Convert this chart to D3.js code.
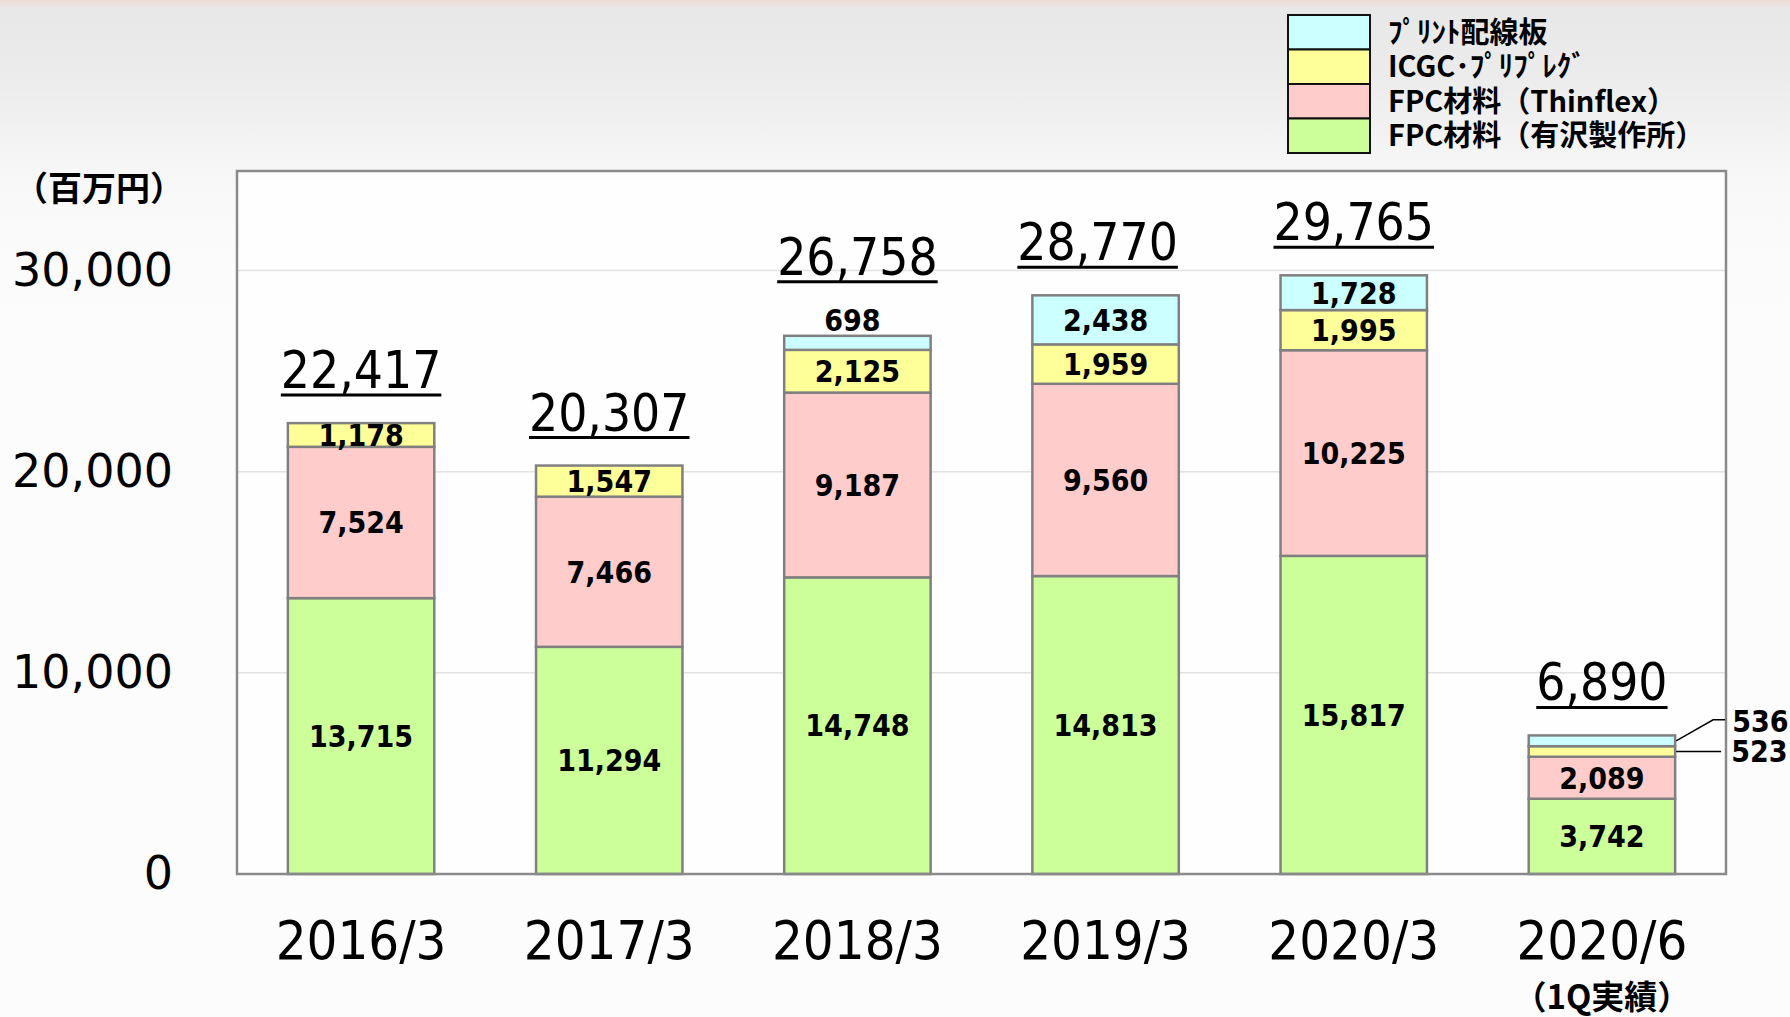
<!DOCTYPE html>
<html>
<head>
<meta charset="utf-8">
<script src="https://cdnjs.cloudflare.com/ajax/libs/d3/7.8.5/d3.min.js"></script>
<style>
  html, body { margin: 0; padding: 0; background: #fcfcfc; }
  svg { display: block; }
</style>
</head>
<body>
<div id="chart"></div>
<script>
// data (百万円)
var categories = ['2016/3', '2017/3', '2018/3', '2019/3', '2020/3', '2020/6'];
var seriesNames = ['FPC材料（有沢製作所）', 'FPC材料（Thinflex）', 'ICGC･ﾌﾟﾘﾌﾟﾚｸﾞ', 'ﾌﾟﾘﾝﾄ配線板'];
var arisawa  = [13715, 11294, 14748, 14813, 15817, 3742];
var thinflex = [7524, 7466, 9187, 9560, 10225, 2089];
var icgc     = [1178, 1547, 2125, 1959, 1995, 523];
var pcb      = [0, 0, 698, 2438, 1728, 536];
var totals   = [22417, 20307, 26758, 28770, 29765, 6890];
var yTicks   = [0, 10000, 20000, 30000];

var colors = ['#ccff99', '#ffcccc', '#ffff99', '#ccffff'];

var W = 1790, H = 1017;
var plot = {left: 237, right: 1726, top: 171, bottom: 874};

var svg = d3.select('#chart').append('svg')
    .attr('width', W)
    .attr('height', H);

// background gradient
var defs = svg.append('defs');
var bg = defs.append('linearGradient').attr('id', 'bg')
    .attr('x1', 0).attr('y1', 0).attr('x2', 0).attr('y2', 1);
bg.append('stop').attr('offset', '0%').attr('stop-color', '#e7e7e7');
bg.append('stop').attr('offset', '8%').attr('stop-color', '#ececec');
bg.append('stop').attr('offset', '18%').attr('stop-color', '#f8f8f8');
bg.append('stop').attr('offset', '30%').attr('stop-color', '#fcfcfc');
bg.append('stop').attr('offset', '100%').attr('stop-color', '#fcfcfc');
svg.append('rect').attr('width', W).attr('height', H).attr('fill', 'url(#bg)');

var topTint = defs.append('linearGradient').attr('id', 'tint')
    .attr('x1', 0).attr('y1', 0).attr('x2', 0).attr('y2', 1);
topTint.append('stop').attr('offset', '0%').attr('stop-color', '#f0d8cc').attr('stop-opacity', 0.8);
topTint.append('stop').attr('offset', '100%').attr('stop-color', '#f0d8cc').attr('stop-opacity', 0);
svg.append('rect').attr('x', 0).attr('y', 0).attr('width', W).attr('height', 8).attr('fill', 'url(#tint)');

var x = d3.scaleBand()
    .domain(categories)
    .range([plot.left, plot.right])
    .paddingInner(0.41)
    .paddingOuter(0.205);

var y = d3.scaleLinear()
    .domain([0, 30000])
    .range([plot.bottom, 270.6]);

// plot area
svg.append('rect')
    .attr('x', plot.left).attr('y', plot.top)
    .attr('width', plot.right - plot.left).attr('height', plot.bottom - plot.top)
    .attr('fill', '#fefefe');

// gridlines
svg.append('g').selectAll('line')
    .data(yTicks.filter(function(d) { return d > 0; }))
    .enter().append('line')
    .attr('x1', plot.left).attr('x2', plot.right)
    .attr('y1', function(d) { return y(d); })
    .attr('y2', function(d) { return y(d); })
    .attr('stroke', '#e2e2e2')
    .attr('stroke-width', 1.5);

// stack
var rows = categories.map(function(c, i) {
  return {cat: c, a: arisawa[i], t: thinflex[i], g: icgc[i], p: pcb[i]};
});
var stack = d3.stack().keys(['a', 't', 'g', 'p']);
var layers = stack(rows);

var gBars = svg.append('g');
layers.forEach(function(layer, li) {
  gBars.selectAll('rect.l' + li)
    .data(layer.filter(function(d) { return d[1] - d[0] > 0; }))
    .enter().append('rect')
    .attr('class', 'l' + li)
    .attr('x', function(d) { return x(d.data.cat); })
    .attr('y', function(d) { return y(d[1]); })
    .attr('width', x.bandwidth())
    .attr('height', function(d) { return y(d[0]) - y(d[1]); })
    .attr('fill', colors[li])
    .attr('stroke', '#808080')
    .attr('stroke-width', 2.5);
});

// frame
svg.append('rect')
    .attr('x', plot.left).attr('y', plot.top)
    .attr('width', plot.right - plot.left).attr('height', plot.bottom - plot.top)
    .attr('fill', 'none')
    .attr('stroke', '#8a8a8a')
    .attr('stroke-width', 2.5);

var fmt = d3.format(',');
var segFont = '"DejaVu Sans Condensed", "DejaVu Sans", sans-serif';
var bigFont = '"DejaVu Sans Condensed", "DejaVu Sans", sans-serif';
var jpFont = '"Noto Sans CJK JP", "Noto Sans", sans-serif';

// segment labels
var lastIdx = categories.length - 1;
layers.forEach(function(layer, li) {
  layer.forEach(function(d, i) {
    var v = d[1] - d[0];
    if (v <= 0) return;
    if (i === lastIdx && li >= 2) return; // callouts
    var cx = x(d.data.cat) + x.bandwidth() / 2;
    var cy = (y(d[0]) + y(d[1])) / 2;
    if (li === 3 && i === 2) { cy = y(d[1]) - 16; cx -= 5; } // 698 above the bar
    svg.append('text')
      .attr('x', cx).attr('y', cy)
      .attr('dy', '0.36em')
      .attr('text-anchor', 'middle')
      .style('font-family', segFont)
      .style('font-weight', 'bold')
      .style('font-size', '30px')
      .attr('fill', '#000')
      .text(fmt(v));
  });
});

// callouts for the last bar (536 / 523)
var lastCat = categories[lastIdx];
var bx = x(lastCat) + x.bandwidth();
var pcbSeg = layers[3][lastIdx], icgcSeg = layers[2][lastIdx];
var yP = (y(pcbSeg[0]) + y(pcbSeg[1])) / 2;
var yI = (y(icgcSeg[0]) + y(icgcSeg[1])) / 2;
svg.append('polyline')
    .attr('points', [[bx + 1, yP], [bx + 38, yP - 21], [bx + 50, yP - 21]].join(' '))
    .attr('fill', 'none').attr('stroke', '#000').attr('stroke-width', 1.5);
svg.append('line')
    .attr('x1', bx + 1).attr('y1', yI).attr('x2', bx + 46).attr('y2', yI)
    .attr('stroke', '#000').attr('stroke-width', 1.5);
svg.append('text')
    .attr('x', bx + 57).attr('y', yP - 20).attr('dy', '0.36em')
    .style('font-family', segFont).style('font-weight', 'bold').style('font-size', '30px')
    .text(fmt(pcb[lastIdx]));
svg.append('text')
    .attr('x', bx + 56).attr('y', yI).attr('dy', '0.36em')
    .style('font-family', segFont).style('font-weight', 'bold').style('font-size', '30px')
    .text(fmt(icgc[lastIdx]));

// totals, underlined
totals.forEach(function(t, i) {
  var cx = x(categories[i]) + x.bandwidth() / 2 - (i === 3 ? 8 : 0);
  var base = y(t) - 35 - (i === 2 ? 26 : 0);
  var txt = svg.append('text')
    .attr('x', cx).attr('y', base)
    .attr('text-anchor', 'middle')
    .style('font-family', bigFont)
    .style('font-size', '51px')
    .attr('fill', '#000')
    .text(fmt(t));
  var bb = txt.node().getBBox();
  svg.append('line')
    .attr('x1', bb.x).attr('x2', bb.x + bb.width)
    .attr('y1', base + 7).attr('y2', base + 7)
    .attr('stroke', '#000').attr('stroke-width', 3);
});

// y axis labels
svg.append('g').selectAll('text')
    .data(yTicks)
    .enter().append('text')
    .attr('x', 173)
    .attr('y', function(d) { return y(d) + 15; })
    .attr('text-anchor', 'end')
    .style('font-family', '"DejaVu Sans", sans-serif')
    .style('font-size', '46px')
    .text(function(d) { return fmt(d); });

svg.append('text')
    .attr('x', 99).attr('y', 189).attr('dy', '0.36em')
    .attr('text-anchor', 'middle')
    .style('font-family', jpFont).style('font-weight', 'bold').style('font-size', '34px')
    .text('（百万円）');

// x axis labels
svg.append('g').selectAll('text')
    .data(categories)
    .enter().append('text')
    .attr('x', function(d) { return x(d) + x.bandwidth() / 2; })
    .attr('y', 959)
    .attr('text-anchor', 'middle')
    .style('font-family', bigFont)
    .style('font-size', '54px')
    .text(function(d) { return d; });

svg.append('text')
    .attr('x', x(lastCat) + x.bandwidth() / 2).attr('y', 997).attr('dy', '0.36em')
    .attr('text-anchor', 'middle')
    .style('font-family', jpFont).style('font-weight', 'bold').style('font-size', '33px')
    .text('（1Q実績）');

// legend (top series first)
var legendOrder = [3, 2, 1, 0];
var legend = svg.append('g').attr('transform', 'translate(1288,15)');
legendOrder.forEach(function(si, k) {
  legend.append('rect')
    .attr('x', 0).attr('y', k * 34.5)
    .attr('width', 82).attr('height', 34.5)
    .attr('fill', colors[si])
    .attr('stroke', '#111').attr('stroke-width', 2);
  legend.append('text')
    .attr('x', 100).attr('y', k * 34.5 + 17.5).attr('dy', '0.36em')
    .style('font-family', jpFont).style('font-weight', 'bold').style('font-size', '29px')
    .text(seriesNames[si]);
});
</script>
</body>
</html>
